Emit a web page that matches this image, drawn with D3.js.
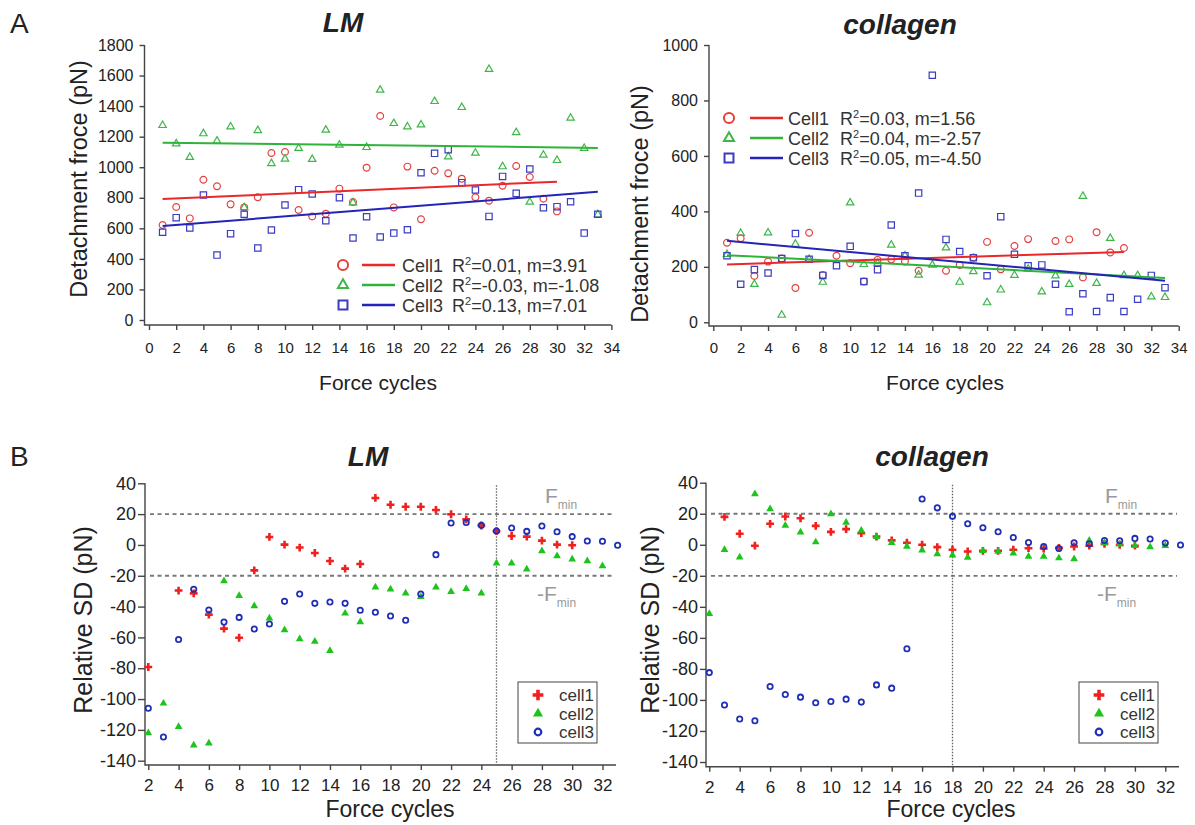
<!DOCTYPE html>
<html lang="en">
<head>
<meta charset="utf-8">
<script src="https://cdn.jsdelivr.net/npm/d3@7"></script>
<style>
  body { margin: 0; background: #fff; }
  svg { font-family: "Liberation Sans", Arial, sans-serif; }
  .axis line { stroke: #444; stroke-width: 1.4; }
  .axis text { fill: #222; }
</style>
<title></title>
</head>
<body>
<script>
var width = 1195, height = 825;

// panel A: detachment force (pN), first value = force cycle 1
var lmCell1 = [622, 740, 665, 918, 875, 757, 737, 803, 1093, 1100, 720, 678, 696, 860, 772, 997, 1335, 737, 1004, 659, 977, 960, 925, 803, 781, 879, 1008, 936, 794, 711];
var lmCell2 = [1274, 1154, 1065, 1220, 1172, 1265, 737, 1241, 1025, 1054, 1124, 1052, 1244, 1145, 768, 1130, 1505, 1287, 1265, 1278, 1431, 1069, 1392, 1093, 1641, 1004, 1228, 772, 1080, 1045, 1322, 1124, 690];
var lmCell3 = [574, 670, 602, 818, 425, 565, 692, 471, 589, 753, 853, 825, 650, 801, 537, 676, 543, 569, 591, 964, 1091, 1115, 899, 851, 678, 940, 829, 988, 735, 742, 774, 569, 692];

var colCell1 = [287, 303, 167, 219, 230, 124, 323, 171, 240, 213, 147, 225, 227, 219, 186, null, 186, 207, 234, 290, 191, 275, 300, null, 293, 299, 162, 325, 252, 268];
var colCell2 = [245, 321, 137, 323, 26, 282, 227, 145, null, 431, 209, 213, 279, 240, 171, 207, 269, 145, 183, 71, 117, 170, 192, 110, 168, 137, 455, 141, 303, 169, 169, 92, 90];
var colCell3 = [240, 137, 190, 178, 230, 320, 227, 169, 204, 274, 147, 190, 351, 240, 466, 891, 299, 255, 233, 168, 381, 245, 204, 207, 137, 38, 103, 39, 89, 39, 83, 169, 125];

// linear fits: intercept, slope, last cycle
var lmFitIntercept = [788, 1162, 608];
var lmFitSlope = [3.91, -1.08, 7.01];
var lmFitEnd = [30, 33, 33];
var lmFitText = ["0.01, m=3.91", "-0.03, m=-1.08", "0.13, m=7.01"];

var colFitIntercept = [207, 244.6, 298.5];
var colFitSlope = [1.56, -2.57, -4.50];
var colFitEnd = [30, 33, 33];
var colFitText = ["0.03, m=1.56", "0.04, m=-2.57", "0.05, m=-4.50"];

// panel B: relative SD (pN), first value = force cycle 2
var sdLmCell1 = [-79.2, null, -29.6, -31.4, -45.2, -54.3, -60.2, -16.5, 5.2, 0.2, -1.7, -5.2, -10.4, -15.4, -12.4, 30.5, 26.1, 24.8, 24.8, 22.7, 19.9, 16.6, 12.6, 9, 5.8, 5.4, 2.8, 0.2, -0.2];
var sdLmCell2 = [-122, -102.8, -117.9, -130, -128.7, -23.4, -32.9, -39.6, -47.6, -55.2, -61, -62.7, -68.6, -44.4, -50, -27.5, -28.8, -31.4, -33.6, -27.5, -30.3, -28.4, -31.4, -11.9, -11.9, -15.8, -3.9, -7.2, -9.3, -10.4, -13.7];
var sdLmCell3 = [-106, -124.6, -61.4, -28.8, -42.2, -50, -47, -54.5, -51.3, -36.6, -31.8, -37.9, -37, -37.9, -42.4, -43.7, -46.1, -48.9, -31.8, -6.3, 14.2, 14.6, 12.7, 9, 11, 8.8, 12.3, 8.6, 5.4, 2.6, 2.4, -0.2];

var sdColCell1 = [null, 18, 7.1, -0.6, 13.5, 18.2, 17.1, 12.2, 8.3, 10.1, 7.5, 5.3, 2.8, 1.3, 0, -1.5, -3.2, -4.3, -3.9, -3.9, -3.2, -2.2, -2.4, -2, -1.1, -0.6, 0.6, 0, -0.6];
var sdColCell2 = [-44.5, -3.2, -8.1, 32.7, 23.1, 12.4, 8.1, 1.7, 19.9, 14.3, 9.2, 5.1, 1.3, -1.1, -3.6, -6, -6.7, -8.2, -3.9, -4.3, -5.4, -7.5, -7.5, -8.6, -9.2, 2.8, 1.1, 0.4, -0.6, -1.5, -0.6];
var sdColCell3 = [-82.4, -103.3, -112.3, -113.4, -91.3, -96.5, -98.2, -101.8, -101, -99.5, -101.4, -90.3, -92.4, -67, 29.5, 23.8, 18.3, 13.5, 11, 8.4, 4.7, 1.5, -1.1, -2.4, 1.3, 0.6, 2.8, 2.6, 4.1, 3.7, 1.1, -0.2];

var aTicksX = d3.range(0, 35, 2);
var lmTicksY = d3.range(0, 1801, 200);
var colTicksY = d3.range(0, 1001, 200);
var bTicksX = d3.range(2, 33, 2);
var bTicksY = d3.range(-140, 41, 20);
var fMin = 20;

var colorsA = ["#e3403d", "#3fb649", "#3a3cc4"];
var lineColorsA = ["#e8282b", "#2fb33a", "#2424b8"];
var colorsB = ["#f0201e", "#1cc41c", "#1f2fb5"];

var svg = d3.select("body").append("svg").attr("width", width).attr("height", height);

// plain integers with a hyphen minus, as in the figure
var plain = function(d) { return String(d); };

function label(x, y, str, size, opts) {
  opts = opts || {};
  var t = svg.append("text").attr("x", x).attr("y", y).text(str)
    .attr("font-size", size).attr("fill", opts.fill || "#222")
    .attr("text-anchor", opts.anchor || "start");
  if (opts.bold) t.attr("font-weight", "bold");
  if (opts.italic) t.attr("font-style", "italic");
  if (opts.rotate) t.attr("transform", "rotate(-90," + x + "," + y + ")");
  return t;
}

function axes(p) {
  var gx = svg.append("g").attr("class", "axis").attr("font-family", null)
    .attr("transform", "translate(0," + p.xAxisY + ")")
    .call(d3.axisBottom(p.x).tickValues(p.xTicks).tickFormat(plain)
      .tickSize(5).tickSizeOuter(0).tickPadding(p.xPad));
  gx.select(".domain").remove();
  gx.selectAll("text").attr("font-size", p.xFont);
  var gy = svg.append("g").attr("class", "axis").attr("font-family", null)
    .attr("transform", "translate(" + p.yAxisX + ",0)")
    .call(d3.axisLeft(p.y).tickValues(p.yTicks).tickFormat(plain)
      .tickSize(p.yTick).tickSizeOuter(0).tickPadding(p.yPad));
  gy.select(".domain").remove();
  gy.selectAll("text").attr("font-size", p.yFont);
  svg.append("path")
    .attr("d", "M" + p.yAxisX + "," + p.yTop + "V" + p.xAxisY + "H" + p.xEnd)
    .attr("fill", "none").attr("stroke", "#444").attr("stroke-width", 1.4);
}

function points(vals, start) {
  return vals.map(function(v, k) { return [k + start, v]; })
    .filter(function(d) { return d[1] != null; });
}

// ---------- panel A ----------
function panelA(p) {
  axes(p);
  var sym = [d3.symbolCircle, d3.symbolTriangle, d3.symbolSquare];
  var sizes = [36, 24, 40];
  p.series.forEach(function(vals, i) {
    svg.append("g").selectAll("path").data(points(vals, 1))
      .enter().append("path")
      .attr("transform", function(d) { return "translate(" + p.x(d[0]) + "," + p.y(d[1]) + ")"; })
      .attr("d", d3.symbol().type(sym[i]).size(sizes[i]))
      .attr("fill", "none").attr("stroke", colorsA[i]).attr("stroke-width", 1.2);
  });
  p.intercepts.forEach(function(b, i) {
    var m = p.slopes[i];
    svg.append("line")
      .attr("x1", p.x(1)).attr("y1", p.y(b + m))
      .attr("x2", p.x(p.ends[i])).attr("y2", p.y(b + m * p.ends[i]))
      .attr("stroke", lineColorsA[i]).attr("stroke-width", 2);
  });
  // legend
  var legSizes = [80, 44, 80];
  p.fitText.forEach(function(txt, i) {
    var yy = p.leg.y + i * p.leg.dy;
    svg.append("path").attr("transform", "translate(" + p.leg.mx + "," + yy + ")")
      .attr("d", d3.symbol().type(sym[i]).size(legSizes[i]))
      .attr("fill", "none").attr("stroke", colorsA[i]).attr("stroke-width", 2);
    svg.append("line").attr("x1", p.leg.l0).attr("x2", p.leg.l1).attr("y1", yy).attr("y2", yy)
      .attr("stroke", lineColorsA[i]).attr("stroke-width", 2.5);
    label(p.leg.tx, yy + 6.5, "Cell" + (i + 1), 18, { fill: "#333" });
    var t = label(p.leg.rx, yy + 6.5, "R", 18, { fill: "#333" });
    t.append("tspan").attr("font-size", 11).attr("dy", -7).text("2");
    t.append("tspan").attr("dy", 7).text("=" + txt);
  });
}

panelA({
  x: d3.scaleLinear().domain([0, 34]).range([149, 611.4]),
  y: d3.scaleLinear().domain([0, 1800]).range([320, 45]),
  xTicks: aTicksX, yTicks: lmTicksY,
  yAxisX: 144.5, xAxisY: 325, xEnd: 611.4, yTop: 45,
  yTick: 5, yPad: 6, yFont: 16, xPad: 12, xFont: 15,
  series: [lmCell1, lmCell2, lmCell3],
  intercepts: lmFitIntercept, slopes: lmFitSlope, ends: lmFitEnd, fitText: lmFitText,
  leg: { mx: 343, y: 265, dy: 20, l0: 362, l1: 395, tx: 402, rx: 452 }
});

panelA({
  x: d3.scaleLinear().domain([0, 34]).range([713.3, 1178.7]),
  y: d3.scaleLinear().domain([0, 1000]).range([322.3, 45]),
  xTicks: aTicksX, yTicks: colTicksY,
  yAxisX: 709, xAxisY: 326, xEnd: 1178.7, yTop: 45,
  yTick: 5, yPad: 6, yFont: 16, xPad: 11, xFont: 15,
  series: [colCell1, colCell2, colCell3],
  intercepts: colFitIntercept, slopes: colFitSlope, ends: colFitEnd, fitText: colFitText,
  leg: { mx: 729, y: 118, dy: 20, l0: 750, l1: 783, tx: 788, rx: 840 }
});

// ---------- panel B ----------
function panelB(p) {
  axes(p);
  [fMin, -fMin].forEach(function(v) {
    svg.append("line").attr("x1", p.yAxisX + 5).attr("x2", p.xEnd - 2)
      .attr("y1", p.y(v)).attr("y2", p.y(v))
      .attr("stroke", "#777").attr("stroke-width", 1.8).attr("stroke-dasharray", "4,3.5");
  });
  svg.append("line").attr("x1", p.x(p.vline)).attr("x2", p.x(p.vline))
    .attr("y1", p.y(40) + 2).attr("y2", p.xAxisY)
    .attr("stroke", "#666").attr("stroke-width", 1.3).attr("stroke-dasharray", "1.5,1.5");

  var sym = [d3.symbolCross, d3.symbolTriangle, d3.symbolCircle];
  var sizes = [34, 26, 22];
  p.series.forEach(function(vals, i) {
    svg.append("g").selectAll("path").data(points(vals, 2))
      .enter().append("path")
      .attr("transform", function(d) { return "translate(" + p.x(d[0]) + "," + p.y(d[1]) + ")"; })
      .attr("d", d3.symbol().type(sym[i]).size(sizes[i]))
      .attr("fill", i < 2 ? colorsB[i] : "none")
      .attr("stroke", i < 2 ? "none" : colorsB[i]).attr("stroke-width", 1.8);
  });

  // Fmin labels
  var f1 = label(p.fx, 503, "F", 21, { fill: "#999" });
  f1.append("tspan").attr("font-size", 12).attr("dy", 6).text("min");
  var f2 = label(p.fx - 8, 601, "-F", 21, { fill: "#999" });
  f2.append("tspan").attr("font-size", 12).attr("dy", 6).text("min");

  // legend
  svg.append("rect").attr("x", p.leg.x).attr("y", 682).attr("width", 79).attr("height", 61)
    .attr("fill", "#fff").attr("stroke", "#444").attr("stroke-width", 1);
  var legSizes = [64, 44, 34];
  ["cell1", "cell2", "cell3"].forEach(function(name, i) {
    var yy = 695 + i * 18.5;
    svg.append("path").attr("transform", "translate(" + (p.leg.x + 20) + "," + yy + ")")
      .attr("d", d3.symbol().type(sym[i]).size(legSizes[i]))
      .attr("fill", i < 2 ? colorsB[i] : "none")
      .attr("stroke", i < 2 ? "none" : colorsB[i]).attr("stroke-width", 2.2);
    label(p.leg.x + 41, yy + 6, name, 17, { fill: "#333" });
  });
}

panelB({
  x: d3.scaleLinear().domain([2, 33]).range([148.3, 617.6]),
  y: d3.scaleLinear().domain([-140, 40]).range([760.7, 483.3]),
  xTicks: bTicksX, yTicks: bTicksY,
  yAxisX: 145, xAxisY: 765, xEnd: 616, yTop: 483.3,
  yTick: 7, yPad: 2, yFont: 18, xPad: 9, xFont: 17,
  series: [sdLmCell1, sdLmCell2, sdLmCell3],
  vline: 25, fx: 545, leg: { x: 518 }
});

panelB({
  x: d3.scaleLinear().domain([2, 33]).range([709.3, 1180.5]),
  y: d3.scaleLinear().domain([-140, 40]).range([762, 482.7]),
  xTicks: bTicksX, yTicks: bTicksY,
  yAxisX: 706, xAxisY: 766.7, xEnd: 1179, yTop: 482.7,
  yTick: 6, yPad: 2, yFont: 18, xPad: 9, xFont: 17,
  series: [sdColCell1, sdColCell2, sdColCell3],
  vline: 18, fx: 1105, leg: { x: 1079 }
});

// ---------- titles and axis labels ----------
label(10, 33, "A", 28);
label(10, 466, "B", 28);
label(343, 32, "LM", 28, { anchor: "middle", bold: true, italic: true });
label(900, 34, "collagen", 28, { anchor: "middle", bold: true, italic: true });
label(368, 466, "LM", 28, { anchor: "middle", bold: true, italic: true });
label(932, 466, "collagen", 28, { anchor: "middle", bold: true, italic: true });

label(87, 179, "Detachment froce (pN)", 23.5, { anchor: "middle", rotate: true });
label(648, 204, "Detachment froce (pN)", 23.5, { anchor: "middle", rotate: true });
label(378, 390, "Force cycles", 21, { anchor: "middle" });
label(945, 390, "Force cycles", 21, { anchor: "middle" });

label(92, 620, "Relative SD (pN)", 25, { anchor: "middle", rotate: true });
label(659, 620, "Relative SD (pN)", 25, { anchor: "middle", rotate: true });
label(390, 817, "Force cycles", 23, { anchor: "middle" });
label(951, 817, "Force cycles", 23, { anchor: "middle" });
</script>
</body>
</html>
